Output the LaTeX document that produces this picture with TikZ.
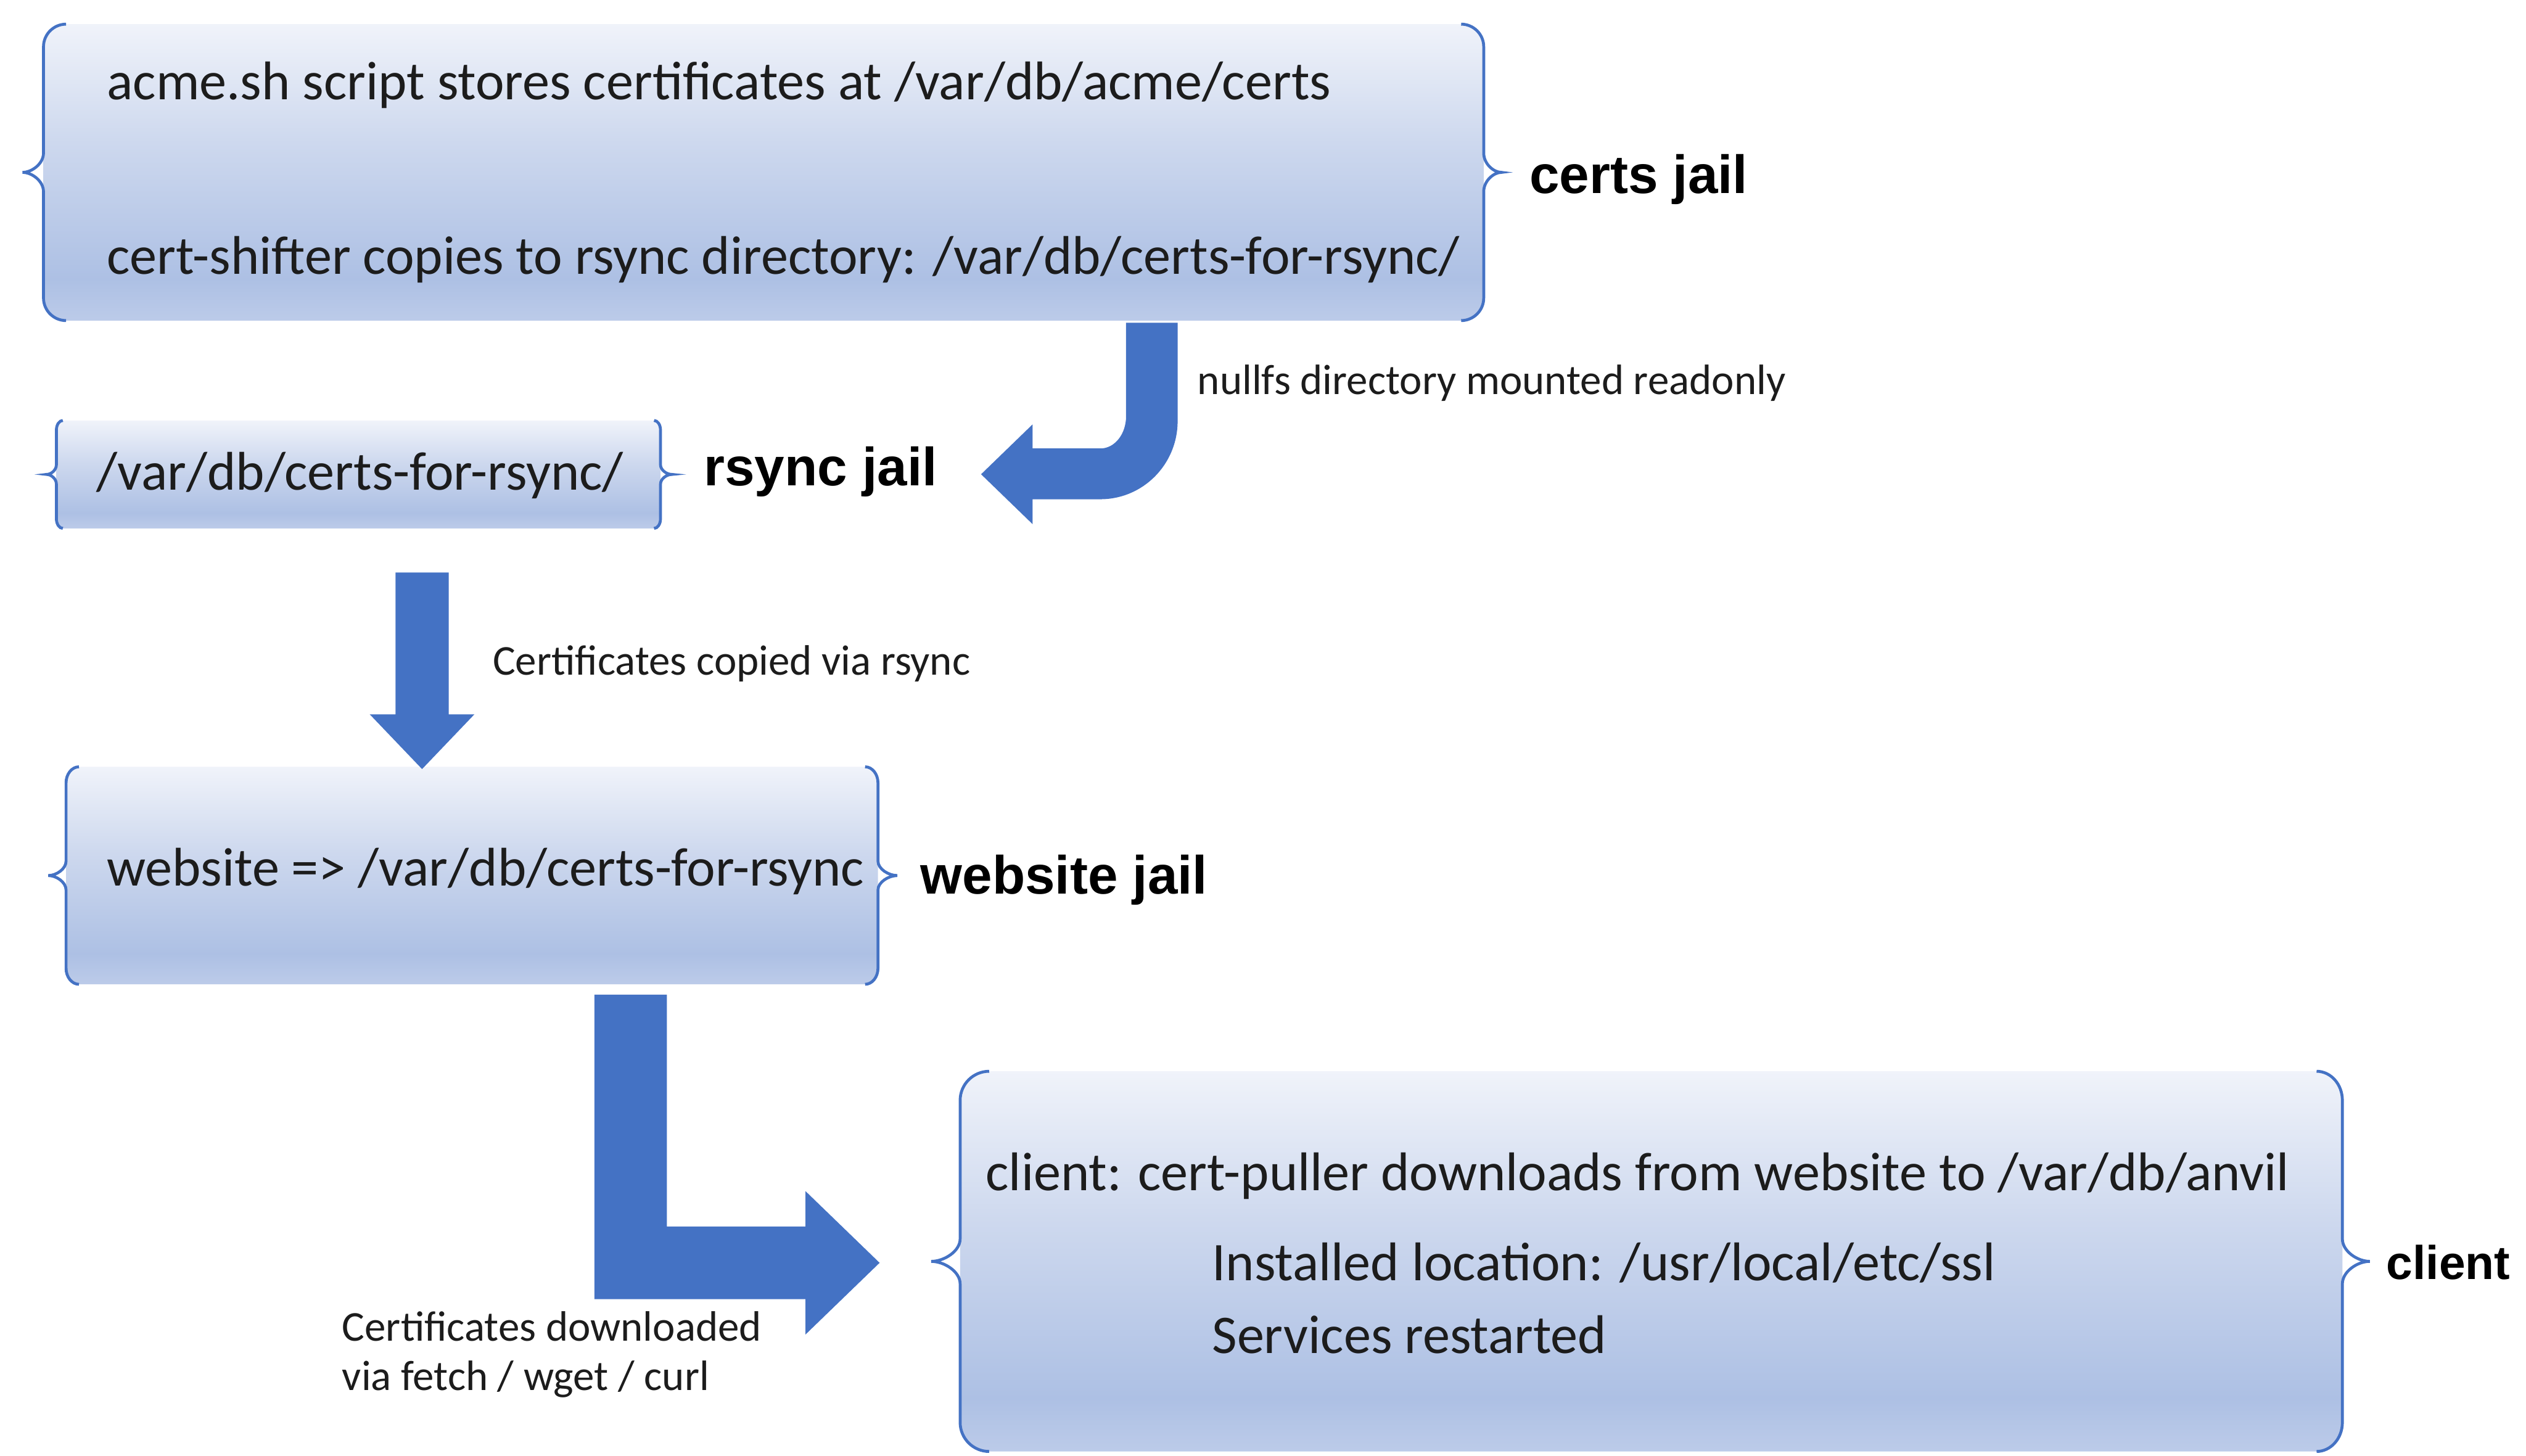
\documentclass[tikz,border=0pt]{standalone}
\usepackage{fontspec}
\setmainfont{Carlito}
\newfontfamily\headfont{Liberation Sans}
\usetikzlibrary{fit}

\definecolor{jailblue}{HTML}{4472C4}
\definecolor{fillA}{HTML}{F0F3FA}
\definecolor{fillB}{HTML}{CDD8EE}
\definecolor{fillC}{HTML}{ADC0E4}
\definecolor{fillD}{HTML}{BCCBE9}
\definecolor{ink}{HTML}{1C1C1C}

% light-to-blue vertical fill of the jail boxes (path spans 25bp..75bp)
\pgfdeclareverticalshading{jailshade}{100bp}{%
  color(0bp)=(fillD); color(25bp)=(fillD); color(32bp)=(fillC);
  color(55bp)=(fillB); color(75bp)=(fillA); color(100bp)=(fillA)}

% curly bracket at the side of a box:
% #1 x, #2 top, #3 bottom, #4 side (-1 left, 1 right),
% #5 end offset, #6 end curl, #7 tip offset, #8 tip curl
\newcommand\jailbrace[8]{%
  \pgfmathsetmacro\jbM{(#2+#3)/2}%
  \draw[bracestroke] ({#1-(#4)*#5},#2)
    .. controls ({#1-(#4)*#5*0.45},#2) and (#1,{#2+#6*0.45}) .. (#1,{#2+#6})
    -- (#1,{\jbM-#8})
    .. controls (#1,{\jbM-#8*0.45}) and ({#1+(#4)*#7*0.55},\jbM) .. ({#1+(#4)*#7},\jbM)
    .. controls ({#1+(#4)*#7*0.55},\jbM) and (#1,{\jbM+#8*0.45}) .. (#1,{\jbM+#8})
    -- (#1,{#3-#6})
    .. controls (#1,{#3-#6*0.45}) and ({#1-(#4)*#5*0.45},#3) .. ({#1-(#4)*#5},#3);
}

\tikzset{
  jailbox/.style={inner sep=0pt, shade, shading=jailshade, draw=none},
  bracestroke/.style={draw=jailblue, line width=0.9pt},
  boxtext/.style={anchor=base west, inner sep=0pt, text=ink,
    font=\fontsize{16.9}{20}\selectfont},
  tagtext/.style={anchor=base west, inner sep=0pt, text=black,
    font=\headfont\bfseries\fontsize{16.7}{20}\selectfont},
  notetext/.style={anchor=base west, inner sep=0pt, text=ink,
    font=\fontsize{13.2}{15}\selectfont},
  blockarrow/.style={fill=jailblue, draw=none},
}

\begin{document}
\begin{tikzpicture}[x=0.5pt, y=-0.5pt]
\path[use as bounding box] (0,0) rectangle (1568,903.6);

% ---------- boxes ----------
\node[jailbox, fit={(27,15) (921,199)}, rounded corners=6pt] (certs) {};
\node[jailbox, fit={(35,261) (410,328)}, rounded corners=2pt] (rsync) {};
\node[jailbox, fit={(41,476) (545,611)}, rounded corners=4pt] (website) {};
\node[jailbox, fit={(596,665) (1454,901)}, rounded corners=8pt] (client) {};

% ---------- brackets ----------
\jailbrace{27}{15}{199}{-1}{14}{14}{13}{12}
\jailbrace{921}{15}{199}{1}{14}{14}{11}{12}
\jailbrace{35}{261}{328}{-1}{4}{6}{6}{6}
\jailbrace{410}{261}{328}{1}{4}{6}{7}{6}
\jailbrace{41}{476}{611}{-1}{8}{10}{11}{9}
\jailbrace{545}{476}{611}{1}{8}{10}{12}{9}
\jailbrace{596}{665}{901}{-1}{18}{18}{18}{14}
\jailbrace{1454}{665}{901}{1}{16}{18}{17}{14}

% ---------- block arrows ----------
% certs -> rsync: down, then bending left
\begin{scope}[shift={(certs.south)}]
  \fill[blockarrow] (225,1) -- (225,59)
    .. controls (225,70) and (218,79) .. (209,79)
    -- (167,79) -- (167,64) -- (135,95) -- (167,126) -- (167,110.5) -- (209,110.5)
    .. controls (235.5,110.5) and (257,88.8) .. (257,62)
    -- (257,1) -- cycle;
\end{scope}
% rsync -> website: straight down
\begin{scope}[shift={(rsync.south)}]
  \fill[blockarrow] (23,27) -- (23,115) -- (7,115) -- (39.5,149) -- (72,115)
    -- (56,115) -- (56,27) -- cycle;
\end{scope}
% website -> client: down, then right
\begin{scope}[shift={(website.south)}]
  \fill[blockarrow] (76,6) -- (76,195) -- (207,195) -- (207,217) -- (253,172.5)
    -- (207,128) -- (207,150) -- (121,150) -- (121,6) -- cycle;
\end{scope}

% ---------- texts ----------
\node[boxtext] (acme) at (66,62) {acme.sh script stores certificates at /var/db/acme/certs};
\node[boxtext] (shifter) at (66,170) {cert-shifter copies to rsync directory: /var/db/certs-for-rsync/};
\node[tagtext] (certstag) at (949,120) {certs jail};

\node[boxtext] (rsyncdir) at (59.5,304) {/var/db/certs-for-rsync/};
\node[tagtext] (rsynctag) at (436.5,301.5) {rsync jail};

\node[boxtext] (webdir) at (66,550) {website => /var/db/certs-for-rsync};
\node[tagtext] (webtag) at (571,555) {website jail};

\node[boxtext] (puller) at (611.5,739) {client: cert-puller downloads from website to /var/db/anvil};
\node[boxtext] (installed) at (752,795) {Installed location: /usr/local/etc/ssl};
\node[boxtext] (restart) at (752,840) {Services restarted};
\node[tagtext, font=\headfont\bfseries\fontsize{14.7}{18}\selectfont] (clienttag) at (1481,794) {client};

\node[notetext] (nullfs) at (743,245) {nullfs directory mounted readonly};
\node[notetext] (copied) at (305.5,419) {Certificates copied via rsync};
\node[notetext] (dl1) at (212,832.5) {Certificates downloaded};
\node[notetext] (dl2) at (212,863) {via fetch / wget / curl};
\end{tikzpicture}
\end{document}
